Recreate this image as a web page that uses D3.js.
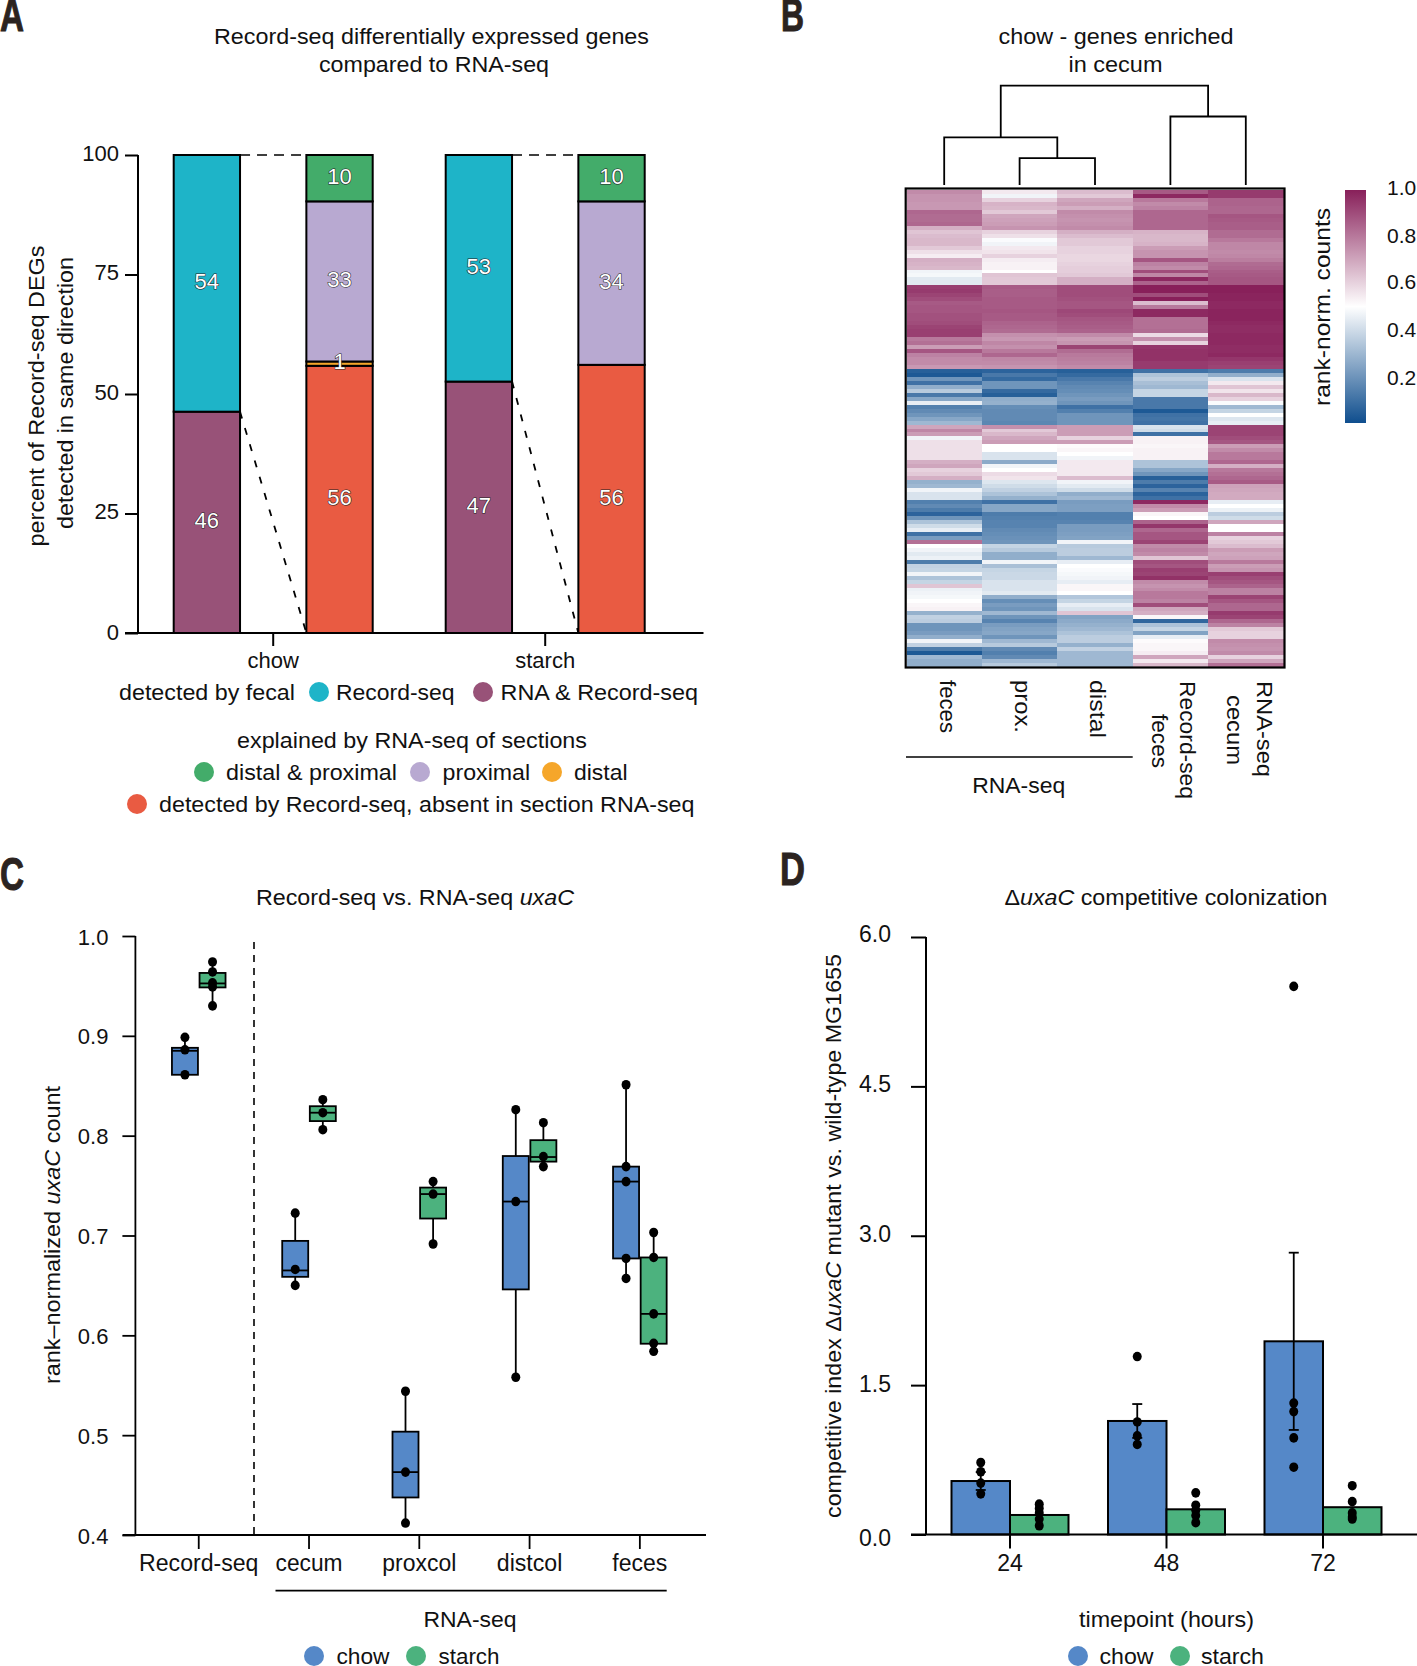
<!DOCTYPE html>
<html><head><meta charset="utf-8">
<script src="https://cdn.jsdelivr.net/npm/d3@7"></script>
<style>html,body{margin:0;padding:0;background:#fff}svg{display:block}text{font-family:"Liberation Sans",Arial,sans-serif;fill:#111}</style>
</head><body><svg id="c" width="1417" height="1666"></svg>
<script>
// ---- Panel A data
const aGroups = ["chow","starch"];
const aBars = ["fecal","sections"];
const aChowFecal = [46.3,53.7];
const aStarchFecal = [52.6,47.4];
const aChowSections = [55.9,0.9,33.5,9.7];
const aStarchSections = [56.1,0,34.2,9.7];
const aChowFecalText = ["46","54"];
const aStarchFecalText = ["47","53"];
const aChowSectionText = ["56","1","33","10"];
const aStarchSectionText = ["56","","34","10"];
const aTicks = [0,25,50,75,100];
// ---- Panel B data
const bColumns = ["feces","prox.","distal","Record-seq feces","RNA-seq cecum"];
const hmFeces = [.76,.74,.74,.73,.73,.84,.83,.83,.84,.68,.63,.65,.66,.66,.62,.57,.54,.68,.67,.66,.47,.48,.44,
 .44,.93,.94,.92,.9,.87,.88,.88,.89,.89,.9,.92,.93,.93,.8,.82,.72,.88,.78,.76,.76,.73,
 .05,.03,.2,.1,.27,.35,.12,.25,.45,.14,.17,.2,.25,.3,.7,.77,.72,.47,.57,.57,.57,.57,.57,.68,.7,.6,.62,.68,.28,.3,.47,.42,.42,
 .14,.17,.13,.06,.2,.33,.4,.45,.1,.22,.82,.5,.47,.44,.46,.13,.37,.38,.47,.33,.38,.63,.46,.47,.48,.5,.52,.53,.28,.37,.36,.2,.2,.22,.27,
 .47,.37,.13,.03,.3,.27,.27];
const hmProx = [.55,.47,.6,.67,.66,.62,.7,.71,.72,.74,.6,.57,.49,.47,.55,.56,.6,.54,.53,.53,.5,.63,.62,
 .62,.87,.86,.86,.87,.87,.87,.88,.87,.87,.85,.84,.83,.75,.73,.77,.75,.8,.84,.77,.76,.74,
 .06,.12,.08,.2,.2,.08,.05,.27,.28,.18,.17,.17,.17,.16,.75,.62,.66,.7,.72,.5,.5,.42,.42,.26,.47,.5,.58,.56,.43,.4,.37,.33,.28,
 .1,.25,.25,.13,.14,.15,.15,.17,.18,.19,.2,.38,.35,.27,.27,.47,.32,.38,.39,.39,.42,.42,.42,.44,.27,.18,.22,.2,.3,.2,.15,.22,.24,.25,
 .2,.3,.35,.17,.14,.17,.3,.35];
const hmDistal = [.65,.62,.7,.72,.68,.76,.75,.74,.75,.76,.68,.65,.62,.62,.6,.6,.59,.59,.6,.61,.61,.62,.68,
 .68,.9,.9,.9,.89,.88,.88,.91,.9,.88,.87,.86,.85,.76,.72,.74,.92,.83,.8,.79,.78,.76,
 .05,.08,.12,.15,.17,.18,.2,.22,.2,.1,.14,.2,.2,.2,.72,.72,.72,.6,.72,.51,.52,.5,.47,.55,.55,.55,.55,.65,.47,.44,.4,.27,.3,
 .22,.23,.23,.14,.14,.15,.22,.22,.23,.24,.47,.35,.36,.36,.3,.45,.5,.49,.48,.47,.45,.52,.52,.5,.34,.38,.45,.42,.63,.24,.26,.28,.3,.33,.36,
 .36,.28,.37,.3,.3,.3,.3];
const hmRecordFeces = [.87,.98,.8,.76,.78,.84,.84,.84,.84,.84,.67,.66,.66,.67,.72,.74,.74,.88,.78,.76,.9,.77,.98,
 .85,1,1,.9,1,.65,.8,.98,.98,.82,.82,.82,.83,.58,.75,.6,.95,.96,.96,.96,.94,.94,
 .1,.33,.36,.32,.3,.38,.38,.12,.12,.12,.03,.1,.11,.1,.42,.4,.1,.53,.53,.52,.53,.53,.53,.33,.33,.25,.2,.05,.13,.06,.15,.06,.1,
 .98,.76,.72,.52,.5,.85,.95,.84,.88,.88,.92,.76,.78,.76,.63,.9,.88,.93,.92,.96,.76,.74,.76,.8,.8,.78,.9,.7,.68,.52,.07,.33,.38,.24,.45,
 .51,.52,.52,.54,.7,.55,.66];
const hmRnaCecum = [.94,.94,.85,.85,.84,.84,.88,.87,.86,.86,.83,.83,.8,.77,.77,.76,.77,.79,.83,.84,.86,.87,.88,
 .88,1,1,.99,.99,.98,.98,.99,.99,.99,.98,.97,.97,.98,.98,.98,.97,.97,.98,.95,.93,.92,
 .13,.27,.42,.55,.63,.56,.66,.6,.49,.3,.38,.5,.43,.45,.92,.92,.92,.9,.88,.72,.76,.8,.8,.84,.68,.8,.82,.84,.87,.71,.7,.69,.69,
 .45,.5,.46,.36,.4,.7,.5,.5,.78,.6,.62,.65,.72,.7,.71,.8,.72,.74,.93,.9,.88,.85,.78,.78,.92,.88,.84,.84,.94,.92,.84,.78,.62,.6,.6,
 .76,.75,.74,.76,.6,.7,.82];
const dendroLeft = [0, [1,2,0.27], 0.48];
const dendroRight = [3,4,0.69];
const dendroRootHeight = 1;
const bTicks = [0.2,0.4,0.6,0.8,1.0];
// ---- Panel C data
const cGroups = ["Record-seq","cecum","proxcol","distcol","feces"];
const cSeries = ["chow","starch"];
const cTicks = [0.4,0.5,0.6,0.7,0.8,0.9,1.0];
const cChowQ1 = [.861,.6586,.4376,.646,.677];
const cChowMed = [.885,.665,.463,.734,.754];
const cChowQ3 = [.888,.6946,.5035,.7796,.769];
const cStarchQ1 = [.9485,.8146,.717,.774,.5916];
const cStarchMed = [.9525,.823,.7415,.7786,.6215];
const cStarchQ3 = [.963,.8295,.748,.7955,.678];
const cChowPoints = [[.8985,.886,.861],[.7224,.666,.65],[.544,.463,.412],[.826,.734,.558],[.851,.769,.754,.677,.657]];
const cStarchPoints = [[.974,.964,.953,.949,.93],[.836,.823,.806],[.754,.7415,.6915],[.813,.779,.769],[.703,.678,.6215,.592,.584]];
// ---- Panel D data
const dGroups = ["24","48","72"];
const dSeries = ["chow","starch"];
const dTicks = [0,1.5,3,4.5,6];
const dChowMean = [.537,1.14,1.94];
const dStarchMean = [.196,.253,.274];
const dChowErr = [.09,.17,.89];
const dStarchErr = [0,0,0];
const dChowPoints = [[.723,.63,.516,.408],[1.787,1.13,.99,.904],[5.504,1.32,1.234,.97,.676]];
const dStarchPoints = [[.305,.262,.217,.155,.088],[.418,.294,.243,.19,.119],[.49,.33,.217,.176,.155]];

const cols = {teal:"#1eb4c8",plum:"#985278",green:"#43ac6a",lav:"#b8a9d1",orange:"#f5a62a",red:"#e95b42",blue:"#5588c8",sgreen:"#4cb27e"};
const svg = d3.select("#c");

function label(parts, x, y, o={}){
  const t = svg.append("text").attr("text-anchor",o.anchor||"middle").attr("font-size",o.size||22);
  if(o.rot!==undefined) t.attr("transform",`translate(${x},${y}) rotate(${o.rot})`).attr("x",0).attr("y",0);
  else t.attr("x",x).attr("y",y);
  t.attr("dy",o.dy||".35em");
  if(o.w) t.attr("textLength",o.w).attr("lengthAdjust","spacingAndGlyphs");
  (Array.isArray(parts)?parts:[[parts,false]]).forEach(p=>{
    t.append("tspan").text(p[0]).attr("font-style",p[1]?"italic":"normal");
  });
  return t;
}
function dot(x,y,c,rx=10,ry=10){svg.append("ellipse").attr("cx",x).attr("cy",y).attr("rx",rx).attr("ry",ry).attr("fill",c);}
function panel(letter,x,base,w){
  svg.append("text").text(letter).attr("x",x).attr("y",base).attr("font-size",46).attr("font-weight",700)
   .attr("textLength",w).attr("lengthAdjust","spacingAndGlyphs")
   .attr("stroke","#2b2320").attr("stroke-width",1)
   .style("font-family",'"Liberation Sans Narrow","Liberation Sans",sans-serif').style("fill","#2b2320");
}
function styleAxis(g,sw,size,nudge){
  g.selectAll("path.domain").remove();
  g.selectAll("line").attr("stroke","#000").attr("stroke-width",sw);
  g.selectAll("text").attr("font-size",size).style("fill","#111");
  if(nudge!==undefined) g.selectAll("text").attr("transform",(d,i)=>`translate(0,${Array.isArray(nudge)?nudge[i]:nudge})`);
}
function hline(x1,x2,y,sw){svg.append("line").attr("x1",x1).attr("x2",x2).attr("y1",y).attr("y2",y).attr("stroke","#000").attr("stroke-width",sw);}
function vline(x,y1,y2,sw){svg.append("line").attr("x1",x).attr("x2",x).attr("y1",y1).attr("y2",y2).attr("stroke","#000").attr("stroke-width",sw);}

// ================= Panel A
(function(){
  panel("A",0,31,24);
  label("Record-seq differentially expressed genes",431.5,36,{w:435,size:22});
  label("compared to RNA-seq",434,64,{w:230,size:22});
  const y=d3.scaleLinear().domain([0,100]).range([633,155]);
  const x0=d3.scaleBand().domain(aGroups).range([137.2,681.2]);
  const x1=d3.scaleBand().domain(aBars).range([-99.5,99.5]).paddingInner(.5);
  const gy=svg.append("g").attr("transform","translate(138,0)").call(d3.axisLeft(y).tickValues(aTicks).tickSize(13).tickPadding(6).tickSizeOuter(0));
  styleAxis(gy,2,22,[-1,-2,-2,-2,-2]);
  vline(138,155,633,2);
  const bars=[[aChowFecal,aChowFecalText,"chow","fecal",[cols.plum,cols.teal]],
              [aStarchFecal,aStarchFecalText,"starch","fecal",[cols.plum,cols.teal]],
              [aChowSections,aChowSectionText,"chow","sections",[cols.red,cols.orange,cols.lav,cols.green]],
              [aStarchSections,aStarchSectionText,"starch","sections",[cols.red,cols.orange,cols.lav,cols.green]]];
  aGroups.forEach((g,i)=>{
    const lo=[aChowFecal,aStarchFecal][i][0];
    const xa=x0(g)+x0.bandwidth()/2+x1("fecal")+x1.bandwidth(), xb=x0(g)+x0.bandwidth()/2+x1("sections");
    svg.append("line").attr("x1",xa).attr("x2",xb).attr("y1",y(100)).attr("y2",y(100)).attr("stroke","#000").attr("stroke-width",1.7).attr("stroke-dasharray","10 7");
    svg.append("line").attr("x1",xa).attr("x2",xb).attr("y1",y(lo)).attr("y2",y(0)).attr("stroke","#000").attr("stroke-width",1.8).attr("stroke-dasharray","7 10");
  });
  const labels=[];
  bars.forEach(([vals,txt,g,b,cs])=>{
    let acc=0;
    vals.forEach((v,i)=>{
      const xx=x0(g)+x0.bandwidth()/2+x1(b);
      if(v>0) svg.append("rect").attr("x",xx).attr("width",x1.bandwidth()).attr("y",y(acc+v)).attr("height",y(acc)-y(acc+v))
        .attr("fill",cs[i]).attr("stroke","#000").attr("stroke-width",2);
      if(txt[i]) labels.push([txt[i],xx+x1.bandwidth()/2,y(acc+v/2)-2]);
      acc+=v;
    });
  });
  labels.forEach(l=>{
    label(l[0],l[1],l[2],{size:22}).style("fill","#fff").attr("stroke","#222").attr("stroke-width",1.1).style("paint-order","stroke");
  });
  const gx=svg.append("g").attr("transform","translate(0,633)").call(d3.axisBottom(x0).tickSize(13).tickPadding(7).tickSizeOuter(0));
  styleAxis(gx,2,22,-1);
  hline(125,703.5,633,2);
  label("detected by fecal",119,692,{anchor:"start",w:176});
  dot(319,692,cols.teal); label("Record-seq",336,692,{anchor:"start",w:118.5});
  dot(483,692,cols.plum); label("RNA & Record-seq",500.5,692,{anchor:"start",w:197.5});
  label("explained by RNA-seq of sections",412,740,{w:350});
  dot(204,772,cols.green); label("distal & proximal",226,772,{anchor:"start",w:171});
  dot(420,772,cols.lav); label("proximal",442.6,772,{anchor:"start",w:87.5});
  dot(552,772,cols.orange); label("distal",574,772,{anchor:"start",w:53.5});
  dot(137,804,cols.red); label("detected by Record-seq, absent in section RNA-seq",159,804,{anchor:"start",w:535.5});
  label("percent of Record-seq DEGs",36.5,396,{rot:-90,w:301});
  label("detected in same direction",65,393,{rot:-90,w:272});
})();

// ================= Panel B
(function(){
  panel("B",781,31,23);
  label("chow - genes enriched",1116,36,{w:235});
  label("in cecum",1115.5,64,{w:94});
  const columns=[hmFeces,hmProx,hmDistal,hmRecordFeces,hmRnaCecum];
  const x=d3.scaleBand().domain(bColumns).range([906.5,1283.5]);
  const rows=d3.range(d3.max(columns,c=>c.length));
  const y=d3.scaleBand().domain(rows).range([190,667]);
  const color=d3.scaleLinear().domain([0,.5,1]).range(["#0f4e8e","#ffffff","#88205a"]);
  columns.forEach((c,ci)=>{
    svg.append("g").attr("shape-rendering","crispEdges").selectAll("rect").data(c).join("rect")
      .attr("x",x(bColumns[ci])).attr("width",x.bandwidth()+.5)
      .attr("y",(d,i)=>y(i)).attr("height",y.bandwidth()+.5).attr("fill",d=>color(d));
  });
  svg.append("rect").attr("x",905.7).attr("y",188.5).attr("width",378.8).attr("height",479)
    .attr("fill","none").attr("stroke","#000").attr("stroke-width",2.2);
  const h=d3.scaleLinear().domain([0,1]).range([185,85.7]);
  const cx=i=>x(bColumns[i])+x.bandwidth()/2;
  function link(a,b,ht){
    const xa=a.x,xb=b.x,ya=a.y,yb=b.y,yy=h(ht);
    svg.append("path").attr("d",d3.line()([[xa,ya],[xa,yy],[xb,yy],[xb,yb]])).attr("fill","none").attr("stroke","#000").attr("stroke-width",1.8);
    return {x:(xa+xb)/2,y:yy};
  }
  const leaf=i=>({x:cx(i),y:h(0)});
  const inner=link(leaf(dendroLeft[1][0]),leaf(dendroLeft[1][1]),dendroLeft[1][2]);
  const left=link(leaf(dendroLeft[0]),inner,dendroLeft[2]);
  const right=link(leaf(dendroRight[0]),leaf(dendroRight[1]),dendroRight[2]);
  link(left,right,dendroRootHeight);
  label("feces",948,680,{rot:90,anchor:"start",w:53});
  label("prox.",1022.7,680,{rot:90,anchor:"start",w:53});
  label("distal",1097.5,680,{rot:90,anchor:"start",w:58});
  label("Record-seq",1187.5,681,{rot:90,anchor:"start",w:118});
  label("feces",1160,714,{rot:90,anchor:"start",w:54});
  label("RNA-seq",1265,681,{rot:90,anchor:"start",w:96});
  label("cecum",1234.7,695,{rot:90,anchor:"start",w:70});
  hline(906,1132.7,757,1.6);
  label("RNA-seq",1018.7,785.5,{w:93});
  const cy=d3.scaleLinear().domain([0,1]).range([423,190]);
  const grad=svg.append("defs").append("linearGradient").attr("id","cb").attr("x1",0).attr("x2",0).attr("y1",1).attr("y2",0);
  grad.selectAll("stop").data([0,.5,1]).join("stop").attr("offset",d=>d).attr("stop-color",d=>color(d));
  svg.append("rect").attr("x",1345).attr("width",21).attr("y",cy(1)).attr("height",cy(0)-cy(1)).attr("fill","url(#cb)");
  const g=svg.append("g").attr("transform","translate(1366,0)").call(d3.axisRight(cy).tickValues(bTicks).tickFormat(d3.format(".1f")).tickSize(0).tickPadding(21));
  styleAxis(g,0,21,[1,0,-1,-1,-2]);
  label("rank-norm. counts",1322,307,{rot:-90,w:198});
})();

// ================= Panel C
(function(){
  panel("C",0,890,24);
  label([["Record-seq vs. RNA-seq ",false],["uxaC",true]],415,897,{w:318});
  const y=d3.scaleLinear().domain([.4,1]).range([1535,936]);
  const x=d3.scaleBand().domain(cGroups).range([143.6,695]);
  const s=d3.scaleBand().domain(cSeries).range([-27.6,27.6]);
  const gy=svg.append("g").attr("transform","translate(135.4,0)").call(d3.axisLeft(y).tickValues(cTicks).tickFormat(d3.format(".1f")).tickSize(13).tickPadding(14).tickSizeOuter(0));
  styleAxis(gy,1.8,22,1);
  vline(135.4,936,1535,1.8);
  const widths=[119.4,67,74,65.6,55];
  const gx=svg.append("g").attr("transform","translate(0,1535)").call(d3.axisBottom(x).tickSize(14).tickPadding(7).tickSizeOuter(0));
  styleAxis(gx,1.8,23,-1);
  gx.selectAll("text").attr("textLength",(d,i)=>widths[i]).attr("lengthAdjust","spacingAndGlyphs");
  hline(122.6,706,1535,1.8);
  svg.append("line").attr("x1",254).attr("x2",254).attr("y1",y(1)+6).attr("y2",y(.4)).attr("stroke","#000").attr("stroke-width",1.6).attr("stroke-dasharray","7 6");
  const series=[["chow",cChowQ1,cChowMed,cChowQ3,cChowPoints,cols.blue],["starch",cStarchQ1,cStarchMed,cStarchQ3,cStarchPoints,cols.sgreen]];
  series.forEach(([nm,q1,med,q3,pts,col])=>{
    const bw=26;
    cGroups.forEach((g,i)=>{
      const cxx=x(g)+x.bandwidth()/2+s(nm)+s.bandwidth()/2;
      vline(cxx,y(d3.max(pts[i])),y(d3.min(pts[i])),1.8);
      svg.append("rect").attr("x",cxx-bw/2).attr("width",bw).attr("y",y(q3[i])).attr("height",y(q1[i])-y(q3[i])).attr("fill",col).attr("stroke","#000").attr("stroke-width",1.8);
      hline(cxx-bw/2,cxx+bw/2,y(med[i]),1.8);
      pts[i].forEach(p=>dot(cxx,y(p),"#000",4.5,4.8));
    });
  });
  hline(275.5,666.7,1590.6,1.6);
  label("RNA-seq",470,1619.5,{w:93});
  dot(314,1656,cols.blue); label("chow",336.5,1656,{anchor:"start",w:53});
  dot(416,1656,cols.sgreen); label("starch",438.5,1656,{anchor:"start",w:61});
  label([["rank–normalized ",false],["uxaC",true],[" count",false]],52,1235,{rot:-90,w:298});
})();

// ================= Panel D
(function(){
  panel("D",780,885,25);
  label([["Δ",false],["uxaC",true],[" competitive colonization",false]],1166,897,{w:323});
  const y=d3.scaleLinear().domain([0,6]).range([1534.5,937]);
  const x=d3.scaleBand().domain(dGroups).range([931.75,1401.25]);
  const s=d3.scaleBand().domain(dSeries).range([-58.5,58.5]);
  const gy=svg.append("g").attr("transform","translate(926,0)").call(d3.axisLeft(y).tickValues(dTicks).tickFormat(d3.format(".1f")).tickSize(15).tickPadding(20).tickSizeOuter(0));
  styleAxis(gy,2,23,[4,-1,-2,-2,-2.5]);
  vline(926,937,1534.5,2);
  const series=[["chow",dChowMean,dChowErr,dChowPoints,cols.blue],["starch",dStarchMean,dStarchErr,dStarchPoints,cols.sgreen]];
  series.forEach(([nm,m,e,pts,col])=>{
    dGroups.forEach((g,i)=>{
      const x0=x(g)+x.bandwidth()/2+s(nm);
      svg.append("rect").attr("x",x0).attr("width",s.bandwidth()).attr("y",y(m[i])).attr("height",y(0)-y(m[i])).attr("fill",col).attr("stroke","#000").attr("stroke-width",2);
    });
  });
  series.forEach(([nm,m,e,pts,col])=>{
    dGroups.forEach((g,i)=>{
      const cxx=x(g)+x.bandwidth()/2+s(nm)+s.bandwidth()/2;
      if(e[i]>0){
        vline(cxx,y(m[i]+e[i]),y(m[i]-e[i]),1.8);
        hline(cxx-5,cxx+5,y(m[i]+e[i]),1.8);
        hline(cxx-5,cxx+5,y(m[i]-e[i]),1.8);
      }
      pts[i].forEach(p=>dot(cxx,y(p),"#000",4.5,4.8));
    });
  });
  const gx=svg.append("g").attr("transform","translate(0,1534.5)").call(d3.axisBottom(x).tickSize(14).tickPadding(7).tickSizeOuter(0));
  styleAxis(gx,2,23,-1);
  hline(911,1417,1534.5,2);
  label("timepoint (hours)",1166.5,1619.5,{w:175});
  dot(1078,1656,cols.blue); label("chow",1099.5,1656,{anchor:"start",w:54});
  dot(1180,1656,cols.sgreen); label("starch",1201,1656,{anchor:"start",w:63});
  label([["competitive index Δ",false],["uxaC",true],[" mutant vs. wild-type MG1655",false]],833,1236,{rot:-90,w:564});
})();
</script></body></html>
